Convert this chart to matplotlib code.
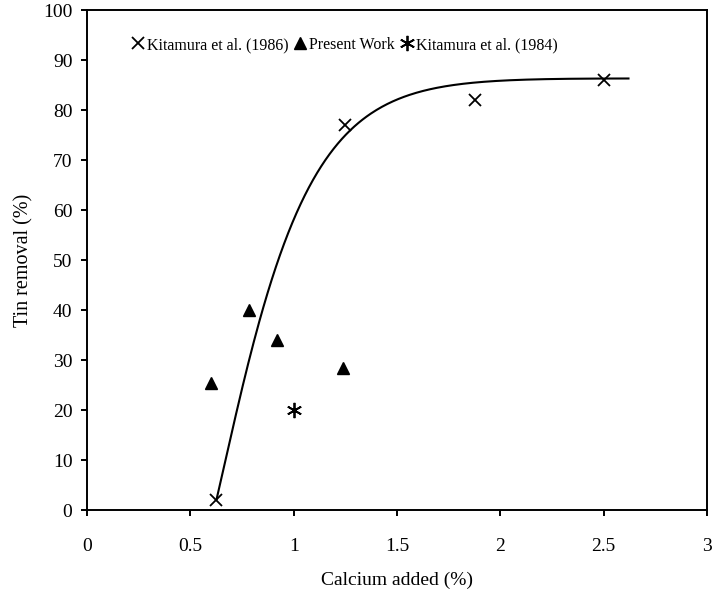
import numpy as np
import matplotlib
matplotlib.use("Agg")
import matplotlib.pyplot as plt

plt.rcParams["font.family"] = ["Liberation Serif", "DejaVu Serif"]

# Kitamura et al. (1986)
kit86_x = [0.625, 1.25, 1.875, 2.5]
kit86_y = [2, 77, 82, 86]

# Present work
present_x = [0.60, 0.785, 0.92, 1.24]
present_y = [25.5, 40, 34, 28.5]

# Kitamura et al. (1984)
kit84_x = [1.0]
kit84_y = [20]

# Trend curve samples
trend_x = [0.627, 0.700, 0.764, 0.829, 0.893, 0.974, 1.031, 1.127, 1.273,
           1.434, 1.595, 1.756, 1.90, 1.998, 2.14, 2.385, 2.62]
trend_y = [2.3, 15.4, 26.1, 36.7, 46.8, 55.5, 61.5, 68.1, 75.5,
           80.2, 83.2, 85.2, 85.8, 86.3, 86.5, 86.3, 85.8]

x_ticks = [0, 0.5, 1, 1.5, 2, 2.5, 3]
x_tick_labels = ["0", "0.5", "1", "1.5", "2", "2.5", "3"]
y_ticks = list(range(0, 101, 10))


def basis(x, k):
    x = np.asarray(x, dtype=float)
    e = np.exp(-k * x)
    return np.column_stack([np.ones_like(x), x, e, x * e])


def fit_trend(xp, yp):
    """Least-squares saturating trend with a linear tail."""
    yp = np.asarray(yp, dtype=float)
    best = None
    for k in np.linspace(1.0, 8.0, 141):
        A = basis(xp, k)
        coef, *_ = np.linalg.lstsq(A, yp, rcond=None)
        err = np.sum((A @ coef - yp) ** 2)
        if best is None or err < best[0]:
            best = (err, k, coef)
    return best[1], best[2]


fig = plt.figure(figsize=(7.12, 5.92), dpi=100)
ax = fig.add_axes([0.1222, 0.1385, 0.8708, 0.8445])

k, coef = fit_trend(trend_x, trend_y)
xs = np.linspace(trend_x[0], trend_x[-1], 300)
ax.plot(xs, basis(xs, k) @ coef, color="black", lw=1.5, zorder=2)

ax.plot(kit86_x, kit86_y, linestyle="none", marker="x", ms=9, mew=1.3,
        color="black", label="Kitamura et al. (1986)", zorder=3)
ax.plot(present_x, present_y, linestyle="none", marker="^", ms=9,
        color="black", label="Present Work", zorder=3)
ax.plot(kit84_x, kit84_y, linestyle="none", marker=(6, 2, 0), ms=11, mew=1.3,
        color="black", label="Kitamura et al. (1984)", zorder=3)

ax.set_xlim(0, 3)
ax.set_ylim(0, 100)
ax.set_xticks(x_ticks)
ax.set_xticklabels(x_tick_labels)
ax.set_yticks(y_ticks)

for s in ax.spines.values():
    s.set_linewidth(1.4)
ax.tick_params(axis="both", direction="out", length=4.5, width=1.4,
               labelsize=14, top=False, right=False)
ax.tick_params(axis="x", pad=16)
ax.tick_params(axis="y", pad=6)

ax.set_xlabel("Calcium added (%)", fontsize=14, labelpad=12)
ax.set_ylabel("Tin removal (%)", fontsize=14.5, labelpad=7)

leg = ax.legend(ncol=3, frameon=False, loc="center left",
                bbox_to_anchor=(0.072, 0.93), fontsize=11.5,
                handlelength=0.8, handletextpad=0.15, columnspacing=0.35,
                borderaxespad=0, borderpad=0)

fig.savefig("out.png", dpi=100)
